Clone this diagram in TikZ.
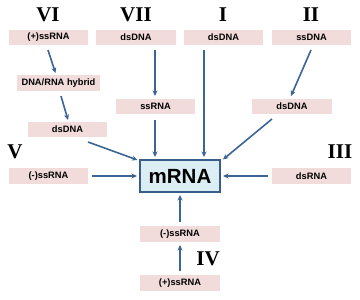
\documentclass[tikz,border=0pt]{standalone}
\usepackage{fontspec}
\setmainfont{Liberation Serif}
\setsansfont{Liberation Sans}
\usetikzlibrary{arrows.meta}
\definecolor{pinkbox}{HTML}{F2DCDB}
\definecolor{arrowblue}{HTML}{3C6494}
\definecolor{mrnafill}{HTML}{DBEEF4}
\definecolor{mrnaborder}{HTML}{385D8A}
\tikzset{
  gbox/.style={fill=pinkbox, draw=none, minimum width=79bp, minimum height=15.5bp, inner sep=0pt,
    font=\sffamily\bfseries\fontsize{9.3bp}{10bp}\selectfont},
  roman/.style={font=\rmfamily\bfseries\fontsize{21bp}{22bp}\selectfont, inner sep=0pt},
  conn/.style={draw=arrowblue, line width=1.6bp, -{Stealth[length=5.5bp,width=5bp]}},
}
\begin{document}
\begin{tikzpicture}[x=1bp,y=-1bp]
\useasboundingbox (0,0) rectangle (360,300);
% roman numerals
\node[roman] (rVI) at (48,15) {VI};
\node[roman] (rVII) at (136,15) {VII};
\node[roman] (rI) at (223,15) {I};
\node[roman] (rII) at (311,15) {II};
\node[roman] (rV) at (15,152) {V};
\node[roman] (rIII) at (340,152) {III};
\node[roman] (rIV) at (208,259) {IV};
% boxes
\node[gbox] (a1) at (48.5,37.5) {(+)ssRNA};
\node[gbox] (b1) at (136,37.5) {dsDNA};
\node[gbox] (c1) at (223.5,37.5) {dsDNA};
\node[gbox] (d1) at (311.5,37.5) {ssDNA};
\node[gbox, minimum width=82bp] (a2) at (58.5,83) {DNA/RNA hybrid};
\node[gbox] (a3) at (67.5,129.5) {dsDNA};
\node[gbox] (b2) at (155.5,106.5) {ssRNA};
\node[gbox] (d2) at (292,106.5) {dsDNA};
\node[gbox] (e1) at (48.5,176) {(-)ssRNA};
\node[gbox] (f1) at (311.5,176) {dsRNA};
\node[gbox] (g2) at (180,234) {(-)ssRNA};
\node[gbox] (g1) at (180,283) {(+)ssRNA};
\node[fill=mrnafill, draw=mrnaborder, line width=2bp, minimum width=79bp, minimum height=32bp, inner sep=0pt,
  font=\sffamily\bfseries\fontsize{20.5bp}{22bp}\selectfont] (m) at (180,176) {mRNA};
% connector end points
\coordinate (p1) at (48,50);   \coordinate (q1) at (55.5,73);
\coordinate (p2) at (61,96);   \coordinate (q2) at (68,120);
\coordinate (p3) at (88,142);  \coordinate (q3) at (137.5,160);
\coordinate (p4) at (155,50);  \coordinate (q4) at (155,96);
\coordinate (p5) at (155,120); \coordinate (q5) at (155,157);
\coordinate (p6) at (204,50);  \coordinate (q6) at (204,157);
\coordinate (p7) at (311,50);  \coordinate (q7) at (291,96);
\coordinate (p8) at (272,119); \coordinate (q8) at (223,159.5);
\coordinate (p9) at (92,176);  \coordinate (q9) at (137,176);
\coordinate (p10) at (268,176); \coordinate (q10) at (223,176);
\coordinate (p11) at (180,222); \coordinate (q11) at (180,195);
\coordinate (p12) at (180,271); \coordinate (q12) at (180,245);
% connectors
\draw[conn] (p1) -- (q1);
\draw[conn] (p2) -- (q2);
\draw[conn] (p3) -- (q3);
\draw[conn] (p4) -- (q4);
\draw[conn] (p5) -- (q5);
\draw[conn] (p6) -- (q6);
\draw[conn] (p7) -- (q7);
\draw[conn] (p8) -- (q8);
\draw[conn] (p9) -- (q9);
\draw[conn] (p10) -- (q10);
\draw[conn] (p11) -- (q11);
\draw[conn] (p12) -- (q12);
\end{tikzpicture}
\end{document}
